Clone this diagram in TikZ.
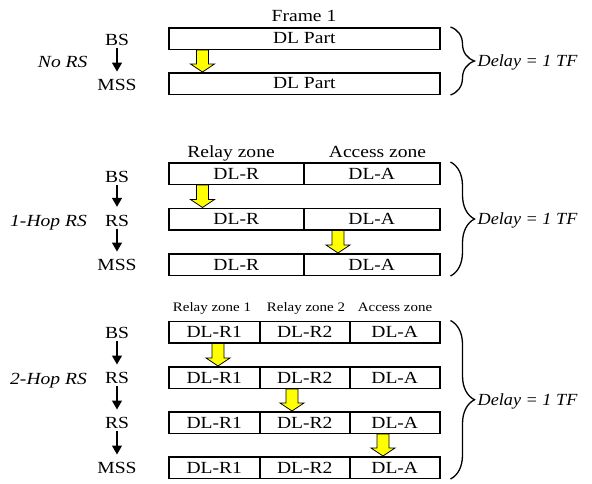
\documentclass[tikz,border=0pt]{standalone}
\usepackage{fontspec}
\setmainfont{Liberation Serif}[FakeStretch=1.15]
\newfontfamily\delayfamily{Liberation Serif}[FakeStretch=1.07]
\usetikzlibrary{calc,arrows.meta,decorations.pathreplacing}
\definecolor{flowyellow}{RGB}{255,255,0}

\newcommand\zonefont{\fontsize{17pt}{20pt}\selectfont}
\newcommand\smallzonefont{\fontsize{13pt}{15pt}\selectfont}

\tikzset{
  cell/.style={draw, line width=1.5pt, minimum height=21.5pt, inner sep=0pt, anchor=west, font=\zonefont},
  station/.style={font=\zonefont, inner sep=0pt, text height=11.5pt, text depth=0pt, anchor=base},
  scenario/.style={font=\zonefont\itshape, inner sep=0pt, anchor=base},
  header/.style={font=\zonefont, inner sep=0pt, anchor=base},
  subheader/.style={font=\smallzonefont, inner sep=0pt, anchor=base},
  hop/.style={line width=1.3pt, -{Triangle[width=10pt,length=9pt]}, shorten <=2.5pt, shorten >=7.5pt},
  transfer/.style={draw=black, line width=0.8pt, fill=flowyellow},
  span/.style={line width=1.3pt, decorate, decoration={brace, amplitude=24pt}},
  delay/.style={font=\delayfamily\zonefont\itshape, inner sep=0pt, text height=11.5pt, text depth=0pt, anchor=west},
}

% yellow block arrow at x=#1 from the bottom of cell #2 to the top of cell #3
\newcommand\transferarrow[3]{%
  \draw[transfer] let \p1=(#2.south), \p2=(#3.north) in
    (#1pt-6pt,\y1) -- (#1pt+6pt,\y1) -- (#1pt+6pt,\y2+8pt) -- (#1pt+12pt,\y2+8pt)
    -- (#1pt,\y2) -- (#1pt-12pt,\y2+8pt) -- (#1pt-6pt,\y2+8pt) -- cycle;}

\begin{document}
\begin{tikzpicture}[x=1pt,y=-1pt]
\useasboundingbox (0,0) rectangle (592,483);

% ---------------- No RS ----------------
\node[header] (frame) at (304,21) {Frame 1};
\node[cell, minimum width=271pt] (a1) at (168,38.5) {DL Part};
\node[cell, minimum width=271pt] (a2) at (168,83.5) {DL Part};

\node[station] (abs) at (117,45.75) {BS};
\node[station] (amss) at (117,90.75) {MSS};
\node[scenario] (ano) at (62.7,67.7) {No RS};
\draw[hop] (abs.south) -- (amss.north);

\transferarrow{202.5}{a1}{a2}

\draw[span] ($(a1.north east)+(10,0)$) -- ($(a2.south east)+(10,0)$);
\node[delay] (ad) at ($(a1.north east)!0.5!(a2.south east)+(37,0)$) {Delay = 1 TF};

% ---------------- 1-Hop RS ----------------
\node[header] (mrz) at (231,157.5) {Relay zone};
\node[header] (maz) at (377.5,157.5) {Access zone};

\node[cell, minimum width=135pt] (m1r) at (168,173.5) {DL-R};
\node[cell, minimum width=136pt] (m1a) at (303,173.5) {DL-A};
\node[cell, minimum width=135pt] (m2r) at (168,219) {DL-R};
\node[cell, minimum width=136pt] (m2a) at (303,219) {DL-A};
\node[cell, minimum width=135pt] (m3r) at (168,264.5) {DL-R};
\node[cell, minimum width=136pt] (m3a) at (303,264.5) {DL-A};

\node[station] (mbs) at (117,182.5) {BS};
\node[station] (mrs) at (117,226) {RS};
\node[station] (mmss) at (117,270.75) {MSS};
\node[scenario] (mhop) at (48.5,226) {1-Hop RS};
\draw[hop] (mbs.south) -- (mrs.north);
\draw[hop] (mrs.south) -- (mmss.north);

\transferarrow{202.5}{m1r}{m2r}
\transferarrow{338}{m2a}{m3a}

\draw[span] ($(m1a.north east)+(10,0)$) -- ($(m3a.south east)+(10,0)$);
\node[delay] (md) at ($(m1a.north east)!0.5!(m3a.south east)+(37,0)$) {Delay = 1 TF};

% ---------------- 2-Hop RS ----------------
\node[subheader] (brz1) at (212,311.5) {Relay zone 1};
\node[subheader] (brz2) at (306,311.5) {Relay zone 2};
\node[subheader] (baz) at (395,311.5) {Access zone};

\node[cell, minimum width=91pt] (b1r1) at (168,332) {DL-R1};
\node[cell, minimum width=90pt] (b1r2) at (259,332) {DL-R2};
\node[cell, minimum width=90pt] (b1a)  at (349,332) {DL-A};
\node[cell, minimum width=91pt] (b2r1) at (168,377.5) {DL-R1};
\node[cell, minimum width=90pt] (b2r2) at (259,377.5) {DL-R2};
\node[cell, minimum width=90pt] (b2a)  at (349,377.5) {DL-A};
\node[cell, minimum width=91pt] (b3r1) at (168,422.5) {DL-R1};
\node[cell, minimum width=90pt] (b3r2) at (259,422.5) {DL-R2};
\node[cell, minimum width=90pt] (b3a)  at (349,422.5) {DL-A};
\node[cell, minimum width=91pt] (b4r1) at (168,467.5) {DL-R1};
\node[cell, minimum width=90pt] (b4r2) at (259,467.5) {DL-R2};
\node[cell, minimum width=90pt] (b4a)  at (349,467.5) {DL-A};

\node[station] (bbs) at (117,338.7) {BS};
\node[station] (brs1) at (117,383.7) {RS};
\node[station] (brs2) at (117,428.7) {RS};
\node[station] (bmss) at (117,473.7) {MSS};
\node[scenario] (bhop) at (48.5,384) {2-Hop RS};
\draw[hop] (bbs.south) -- (brs1.north);
\draw[hop] (brs1.south) -- (brs2.north);
\draw[hop] (brs2.south) -- (bmss.north);

\transferarrow{218}{b1r1}{b2r1}
\transferarrow{292}{b2r2}{b3r2}
\transferarrow{383}{b3a}{b4a}

\draw[span] ($(b1a.north east)+(10,0)$) -- ($(b4a.south east)+(10,0)$);
\node[delay] (bd) at ($(b1a.north east)!0.5!(b4a.south east)+(37,0)$) {Delay = 1 TF};
\end{tikzpicture}
\end{document}
